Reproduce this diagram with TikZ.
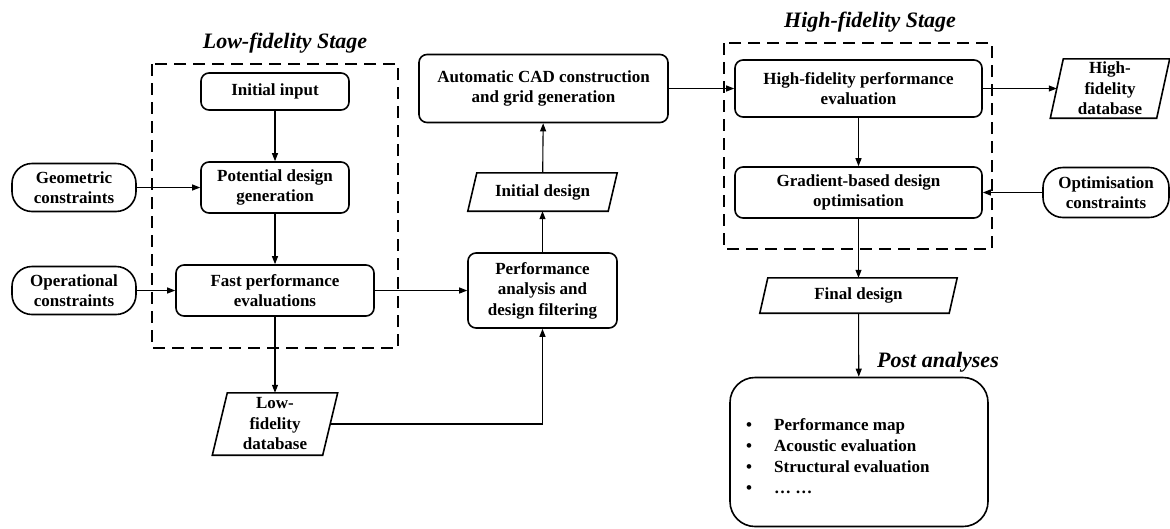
\documentclass[tikz,border=0pt]{standalone}
\usepackage{fontspec}
\setmainfont{Liberation Serif}
\usetikzlibrary{arrows.meta,calc}
\begin{document}
\begin{tikzpicture}[x=1pt,y=-1pt,
  every node/.style={font=\fontsize{17}{20.5}\selectfont\bfseries, align=center, inner sep=0pt},
  rbox/.style={draw, line width=1.6pt, rounded corners=8pt},
  stadium/.style={draw, line width=1.6pt, rounded corners=20pt},
  paranode/.style={inner sep=0pt},
  paraline/.style={line width=1.6pt, line join=miter},
  arr/.style={line width=1.1pt, -{Triangle[length=8pt,width=6pt]}},
  stagebox/.style={line width=2.8pt, dash pattern=on 12pt off 7pt},
  title/.style={font=\fontsize{22}{26}\selectfont\bfseries\itshape}
]
\useasboundingbox (0,0) rectangle (1170,528);

% stage frames
\draw[stagebox] (152,64) rectangle (398,348);
\draw[stagebox] (724,43) rectangle (992,249);
\node[title] (lowtitle) at (285,43) {Low-fidelity Stage};
\node[title] (hightitle) at (870,22) {High-fidelity Stage};
\node[title] (posttitle) at (938,362) {Post analyses};

% low-fidelity stage
\node[rbox, minimum width=148pt, minimum height=37pt] (init) at (275,91.5) {Initial input};
\node[rbox, minimum width=148pt, minimum height=51pt] (pot) at (275,187.5) {Potential design\\generation};
\node[rbox, minimum width=198pt, minimum height=51pt] (fast) at (275,290.5) {Fast performance\\evaluations};
\node[stadium, minimum width=124pt, minimum height=48pt] (geo) at (74,187.5) {Geometric\\constraints};
\node[stadium, minimum width=124pt, minimum height=48pt] (oper) at (74,290.5) {Operational\\constraints};

% parallelograms (outline drawn around invisible nodes)
\node[paranode, minimum width=110pt, minimum height=62pt] (lowdb) at (275,424) {Low-\\fidelity\\database};
\draw[paraline] ([xshift=-7.5pt]lowdb.south west) -- ([xshift=-7.5pt]lowdb.south east)
  -- ([xshift=7.5pt]lowdb.north east) -- ([xshift=7.5pt]lowdb.north west) -- cycle;

\node[rbox, minimum width=149pt, minimum height=75pt] (perf) at (542.5,290.5) {Performance\\analysis and\\design filtering};

\node[paranode, minimum width=140pt, minimum height=38pt] (initd) at (542.5,192) {Initial design};
\draw[paraline] ([xshift=-4.5pt]initd.south west) -- ([xshift=-4.5pt]initd.south east)
  -- ([xshift=4.5pt]initd.north east) -- ([xshift=4.5pt]initd.north west) -- cycle;

\node[rbox, minimum width=249pt, minimum height=68pt] (cad) at (543.5,88.5) {Automatic CAD construction\\and grid generation};

% high-fidelity stage
\node[rbox, minimum width=247pt, minimum height=57pt] (hfperf) at (858.5,88.5) {High-fidelity performance\\evaluation};
\node[rbox, minimum width=247pt, minimum height=51pt] (grad) at (858.5,192.5) {Gradient-based design\\optimisation};

\node[paranode, minimum width=106pt, minimum height=59pt] (hfdb) at (1110,88.5) {High-\\fidelity\\database};
\draw[paraline] ([xshift=-6.5pt]hfdb.south west) -- ([xshift=-6.5pt]hfdb.south east)
  -- ([xshift=6.5pt]hfdb.north east) -- ([xshift=6.5pt]hfdb.north west) -- cycle;

\node[stadium, minimum width=126pt, minimum height=50pt] (optc) at (1106,192.5) {Optimisation\\constraints};

\node[paranode, minimum width=189pt, minimum height=35pt] (finald) at (858.5,295.5) {Final design};
\draw[paraline] ([xshift=-4pt]finald.south west) -- ([xshift=-4pt]finald.south east)
  -- ([xshift=4pt]finald.north east) -- ([xshift=4pt]finald.north west) -- cycle;

% post analyses
\node[draw, line width=1.6pt, rounded corners=25pt, minimum width=258pt, minimum height=149pt] (post) at (859,452) {};
\node[anchor=west, align=left, font=\fontsize{17}{21}\selectfont\bfseries] (postlist) at (746,456)
  {\makebox[28pt][l]{•}Performance map\\
   \makebox[28pt][l]{•}Acoustic evaluation\\
   \makebox[28pt][l]{•}Structural evaluation\\
   \makebox[28pt][l]{•}… …};

% connectors
\draw[arr] (init) -- (pot);
\draw[arr] (pot) -- (fast);
\draw[arr] (geo) -- (pot);
\draw[arr] (oper) -- (fast);
\draw[arr] (fast) -- (lowdb);
\draw[arr] (fast) -- (perf);
\draw[arr] (lowdb.east) -| (perf.south);
\draw[arr] (perf) -- (initd);
\draw[arr] (initd) -- (cad);
\draw[arr] (cad) -- (hfperf);
\draw[arr] (hfperf) -- (hfdb.west);
\draw[arr] (hfperf) -- (grad);
\draw[arr] (optc) -- (grad);
\draw[arr] (grad) -- (finald);
\draw[arr] (finald) -- (post);
\end{tikzpicture}
\end{document}
